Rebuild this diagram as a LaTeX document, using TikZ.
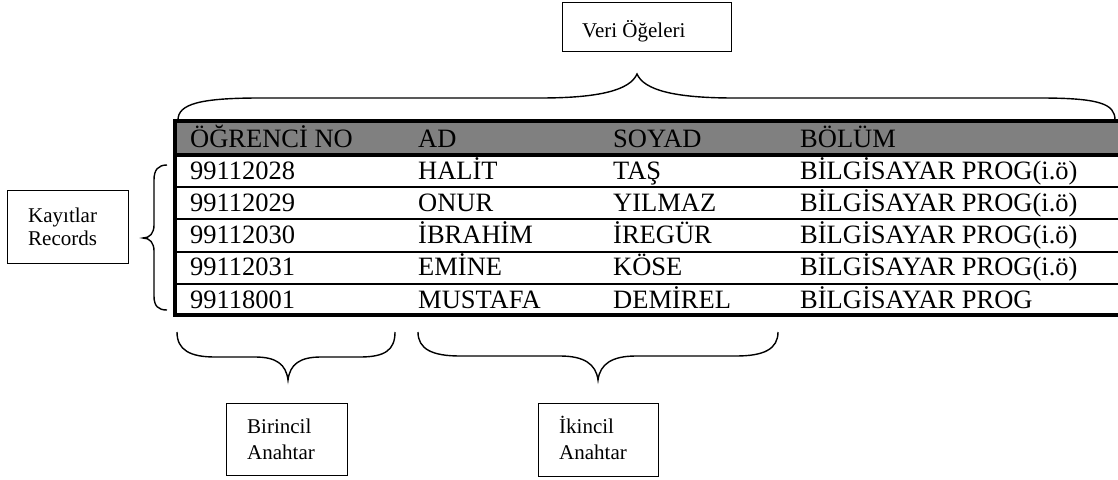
\documentclass[tikz,border=0pt]{standalone}
\usepackage{fontspec}
\setmainfont{Liberation Serif}
\begin{document}
\begin{tikzpicture}[x=1pt,y=-1pt,
  cell/.style={anchor=base west,inner sep=0pt,font=\fontsize{26.5}{30}\selectfont},
  note/.style={anchor=base west,inner sep=0pt,font=\fontsize{21}{25}\selectfont},
  notebox/.style={draw,line width=0.9pt,inner sep=0pt},
  bracepath/.style={line width=1.4pt},
  thick rule/.style={line width=4pt},
  thin rule/.style={line width=2.5pt}]
\useasboundingbox (0,0) rectangle (1118,479);

% header band
\fill[black!50] (175,121) rectangle (1118,155);
% table rules
\draw[thin rule] (175,187) -- (1118,187);
\draw[thin rule] (175,219) -- (1118,219);
\draw[thin rule] (175,252) -- (1118,252);
\draw[thin rule] (175,284) -- (1118,284);
\draw[thick rule] (1118,121) -- (175,121) -- (175,315) -- (1118,315);
\draw[thick rule] (175,155) -- (1118,155);

% header texts
\node[cell] (h1) at (190,147) {ÖĞRENCİ NO};
\node[cell] (h2) at (418,147) {AD};
\node[cell] (h3) at (613,147) {SOYAD};
\node[cell] (h4) at (800,147) {BÖLÜM};

% records
\foreach \no/\ad/\soy/\bol [count=\i] in {
  99112028/HALİT/TAŞ/BİLGİSAYAR PROG(i.ö),
  99112029/ONUR/YILMAZ/BİLGİSAYAR PROG(i.ö),
  99112030/İBRAHİM/İREGÜR/BİLGİSAYAR PROG(i.ö),
  99112031/EMİNE/KÖSE/BİLGİSAYAR PROG(i.ö),
  99118001/MUSTAFA/DEMİREL/BİLGİSAYAR PROG}{
  \pgfmathsetmacro{\yb}{147+32.2*\i}
  \node[cell] (r\i a) at (190,\yb) {\no};
  \node[cell] (r\i b) at (418,\yb) {\ad};
  \node[cell] (r\i c) at (613,\yb) {\soy};
  \node[cell] (r\i d) at (800,\yb) {\bol};
}

% label boxes
\node[notebox,minimum width=169pt,minimum height=49pt] (veribox) at (646.5,26.5) {};
\node[note] (veri) at (582,37) {Veri Öğeleri};

\node[notebox,minimum width=121pt,minimum height=73pt] (kayitbox) at (67.5,226.5) {};
\node[note] (kayit1) at (28,222) {Kayıtlar};
\node[note] (kayit2) at (28,245) {Records};

\node[notebox,minimum width=121pt,minimum height=72pt] (birbox) at (286.5,439) {};
\node[note] (bir1) at (247,433) {Birincil};
\node[note] (bir2) at (247,459) {Anahtar};

\node[notebox,minimum width=120pt,minimum height=73pt] (ikibox) at (598,439.5) {};
\node[note] (iki1) at (559,433) {İkincil};
\node[note] (iki2) at (559,459) {Anahtar};

% brace over the data items
\draw[bracepath] (178,120) .. controls (178,104) and (200,98) .. (260,98)
  -- (540,98) .. controls (600,98) and (630,90) .. (637,74)
  .. controls (644,90) and (674,98) .. (734,98)
  -- (1040,98) .. controls (1100,98) and (1115,104) .. (1115,120);

% brace beside the records
\draw[bracepath] (167,165) .. controls (158,165) and (154,170) .. (154,180)
  -- (154,225) .. controls (154,233) and (150,238) .. (143,238)
  .. controls (150,238) and (154,243) .. (154,251)
  -- (154,296) .. controls (154,306) and (158,310) .. (167,310);

% brace under the primary key column
\draw[bracepath] (177,332) .. controls (177,350) and (190,357) .. (215,357)
  -- (255,357) .. controls (276,357) and (286,364) .. (288,380)
  .. controls (290,364) and (300,357) .. (321,357)
  -- (360,357) .. controls (385,357) and (395,350) .. (395,332);

% brace under the secondary key columns
\draw[bracepath] (418,332) .. controls (418,349) and (432,356) .. (460,356)
  -- (560,356) .. controls (584,356) and (596,364) .. (598,380)
  .. controls (600,364) and (612,356) .. (636,356)
  -- (736,356) .. controls (764,356) and (778,349) .. (778,332);
\end{tikzpicture}
\end{document}
